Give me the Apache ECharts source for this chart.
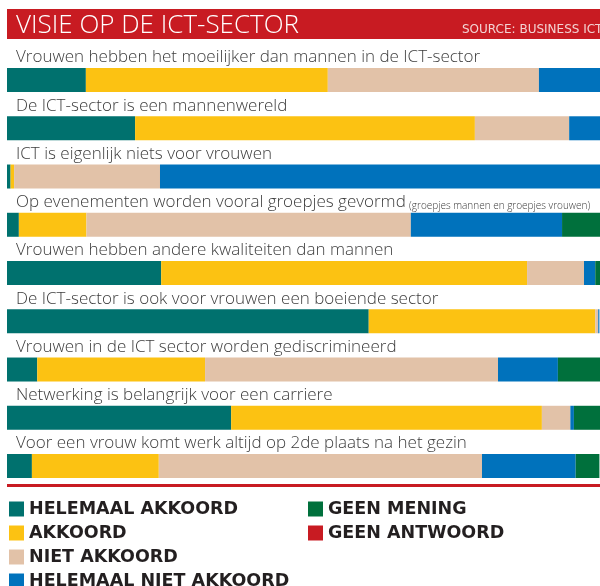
<!DOCTYPE html>
<html>
<head>
<meta charset="utf-8">
<title>Visie op de ICT-sector</title>
<script src="https://cdn.jsdelivr.net/npm/echarts@6/dist/echarts.min.js"></script>
<style>
  html, body { margin: 0; padding: 0; background: #fff; }
  #main { width: 600px; height: 586px; }
</style>
</head>
<body>
<div id="main"></div>
<script>
// stellingen (van boven naar onder)
var statements = [
  'Vrouwen hebben het moeilijker dan mannen in de ICT-sector',
  'De ICT-sector is een mannenwereld',
  'ICT is eigenlijk niets voor vrouwen',
  'Op evenementen worden vooral groepjes gevormd',
  'Vrouwen hebben andere kwaliteiten dan mannen',
  'De ICT-sector is ook voor vrouwen een boeiende sector',
  'Vrouwen in de ICT sector worden gediscrimineerd',
  'Netwerking is belangrijk voor een carriere',
  'Voor een vrouw komt werk altijd op 2de plaats na het gezin'
]
var notes = ['', '', '', '(groepjes mannen en groepjes vrouwen)', '', '', '', '', '']

var answers = ['HELEMAAL AKKOORD', 'AKKOORD', 'NIET AKKOORD', 'HELEMAAL NIET AKKOORD', 'GEEN MENING', 'GEEN ANTWOORD']

// percentages per antwoord
var helemaalAkkoord = [13.3, 21.6, 0.6, 2.0, 26.0, 61.0, 5.1, 37.8, 4.2]
var akkoord = [40.8, 57.3, 0.6, 11.4, 61.7, 38.2, 28.3, 52.4, 21.4]
var nietAkkoord = [35.6, 15.9, 24.6, 54.7, 9.6, 0.5, 49.4, 4.8, 54.5]
var helemaalNiet = [10.3, 5.2, 74.2, 25.5, 1.9, 0.2, 10.1, 0.6, 15.8]
var geenMening = [0, 0, 0, 6.4, 0.8, 0, 7.1, 4.4, 4.0]
var geenAntwoord = [0, 0, 0, 0, 0, 0, 0, 0, 0]

var colors = ['#00716e', '#fcc212', '#e2c2a8', '#0072bc', '#00703c', '#c81b22']
var values = [helemaalAkkoord, akkoord, nietAkkoord, helemaalNiet, geenMening, geenAntwoord]

var myChart = echarts.init(document.getElementById('main'))

var series = []
for (var i = 0; i < answers.length; i++) {
  var s = {
    name: answers[i],
    type: 'bar',
    stack: 'totaal',
    barWidth: 24,
    itemStyle: { color: colors[i] },
    emphasis: { disabled: true },
    data: values[i]
  }
  // de stelling staat boven de eerste balk
  if (i === 0) {
    s.label = {
      show: true,
      position: [9, -1.5],
      align: 'left',
      verticalAlign: 'bottom',
      formatter: function (p) {
        var n = notes[p.dataIndex]
        return '{a|' + p.name + '}' + (n ? ' {b|' + n + '}' : '')
      },
      rich: {
        a: { fontFamily: 'Open Sans', fontWeight: 300, fontSize: 17, color: '#3c3c3c', lineHeight: 18 },
        b: { fontFamily: 'Open Sans', fontWeight: 300, fontSize: 10, color: '#3c3c3c', lineHeight: 18, verticalAlign: 'bottom' }
      }
    }
  }
  series.push(s)
}

var legendText = { fontFamily: 'DejaVu Sans', fontWeight: 'bold', fontSize: 17.5, color: '#231f20', lineHeight: 15 }

var options = {
  animation: false,
  title: [
    {
      text: 'VISIE OP DE ICT-SECTOR',
      left: 16,
      top: 11,
      padding: 0,
      textStyle: { fontFamily: 'Open Sans', fontWeight: 300, fontSize: 26, color: '#ffffff', lineHeight: 29 }
    },
    {
      text: 'SOURCE: BUSINESS ICT',
      left: 462,
      top: 24,
      padding: 0,
      textStyle: { fontFamily: 'DejaVu Sans', fontWeight: 'normal', fontSize: 12, color: '#f3d3d3', lineHeight: 12 }
    }
  ],
  graphic: [
    { type: 'rect', left: 7, top: 9, z: -1, shape: { width: 600, height: 30 }, style: { fill: '#c81b22' } },
    { type: 'rect', left: 7, top: 484, shape: { width: 600, height: 3 }, style: { fill: '#c81b22' } }
  ],
  legend: [
    {
      orient: 'vertical',
      left: 9,
      top: 500,
      height: 120,
      padding: 0,
      icon: 'rect',
      itemWidth: 15,
      itemHeight: 15,
      itemGap: 6,
      selectedMode: false,
      data: answers.slice(0, 4),
      textStyle: legendText
    },
    {
      orient: 'vertical',
      left: 308,
      top: 500,
      height: 120,
      padding: 0,
      icon: 'rect',
      itemWidth: 15,
      itemHeight: 15,
      itemGap: 6,
      selectedMode: false,
      data: answers.slice(4),
      textStyle: legendText
    }
  ],
  grid: { left: 7, top: 55.9, width: 593, height: 434.25 },
  xAxis: { type: 'value', min: 0, max: 100, show: false },
  yAxis: { type: 'category', data: statements, inverse: true, show: false },
  series: series
}

myChart.setOption(options)
</script>
</body>
</html>
